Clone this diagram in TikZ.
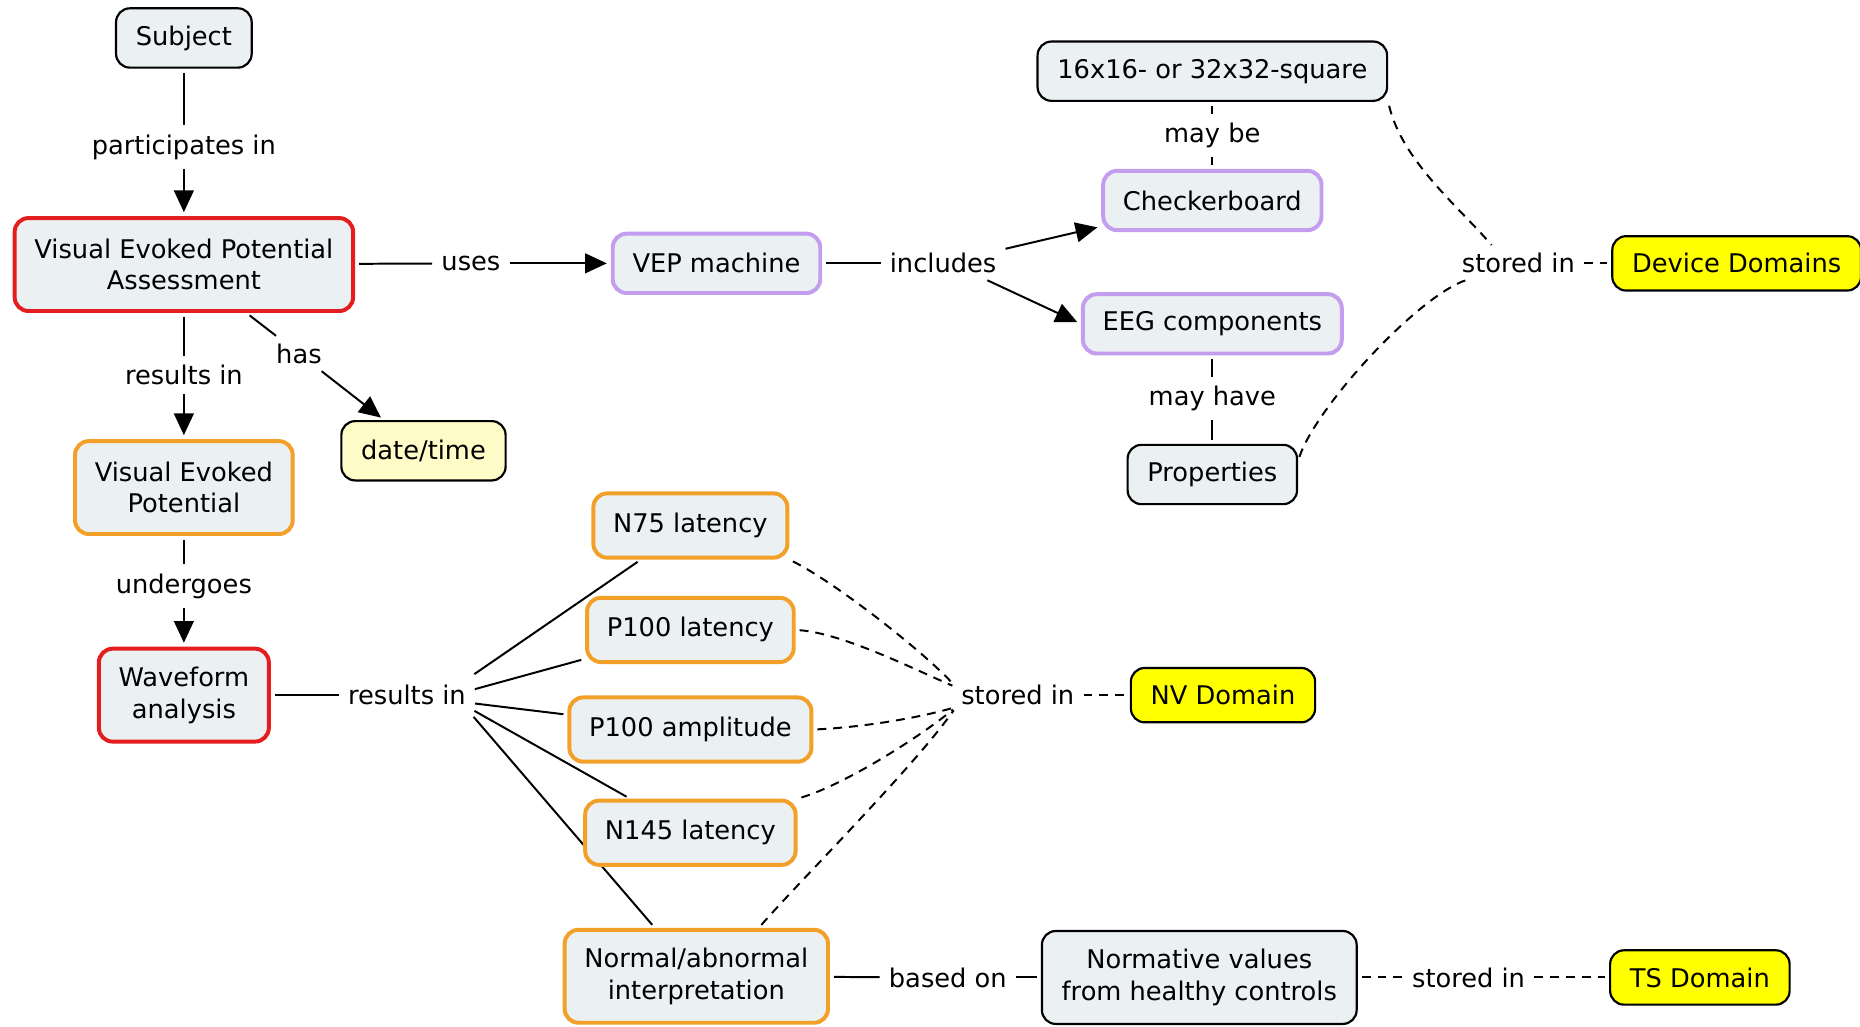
\documentclass[tikz,border=0pt]{standalone}
\usepackage{fontspec}
\setmainfont{DejaVu Sans}
\usetikzlibrary{arrows.meta,backgrounds}
\definecolor{boxfill}{RGB}{235,240,242}
\definecolor{cmred}{RGB}{228,30,30}
\definecolor{cmorange}{RGB}{242,160,40}
\definecolor{cmpurple}{RGB}{196,158,238}
\definecolor{cmyellow}{RGB}{255,255,0}
\definecolor{cmpale}{RGB}{255,252,200}
\tikzset{
  concept/.style={draw=black, line width=1.1pt, fill=boxfill, rounded corners=7pt,
    align=center, inner xsep=10pt, inner ysep=4pt, minimum height=30pt},
  twoline/.style={minimum height=47pt},
  redbox/.style={concept, draw=cmred, line width=2pt},
  orangebox/.style={concept, draw=cmorange, line width=2pt, minimum height=32.5pt},
  purplebox/.style={concept, draw=cmpurple, line width=2pt},
  domainbox/.style={concept, fill=cmyellow, minimum height=27.5pt},
  datebox/.style={concept, fill=cmpale},
  linkword/.style={inner sep=2.5pt, align=center},
  plain/.style={line width=1pt, shorten <=2pt, shorten >=2pt},
  pointer/.style={plain, -{Triangle[length=11pt,width=10pt]}},
  stored/.style={plain, dash pattern=on 4.5pt off 3.5pt},
}
\begin{document}
\begin{tikzpicture}[x=0.6pt, y=0.6pt, font=\fontsize{13pt}{16pt}\selectfont]
    \useasboundingbox (0,0) rectangle (1568,-865);
    %% left column
    \node[concept] (subj) at (155,-32) {Subject};
    \node[redbox, twoline] (vepa) at (155,-223) {Visual Evoked Potential\\Assessment};
    \node[datebox] (date) at (357,-380) {date/time};
    \node[orangebox, twoline] (vep) at (155,-411) {Visual Evoked\\Potential};
    \node[redbox, twoline] (wave) at (155,-586) {Waveform\\analysis};
    \node[linkword] (partin) at (155,-124) {participates in};
    \node[linkword] (uses) at (397,-222) {uses};
    \node[linkword] (has) at (252,-298) {has};
    \node[linkword] (resin) at (155,-316) {results in};
    \node[linkword] (under) at (155,-494) {undergoes};
    %% device part
    \node[purplebox] (vepm) at (604,-222) {VEP machine};
    \node[concept] (sq) at (1022,-60) {16x16- or 32x32-square};
    \node[purplebox] (chk) at (1022,-169) {Checkerboard};
    \node[purplebox] (eeg) at (1022,-273) {EEG components};
    \node[concept] (props) at (1022,-400) {Properties};
    \node[domainbox] (devdom) at (1464,-222) {Device Domains};
    \node[linkword] (inc) at (795,-222) {includes};
    \node[linkword] (maybe) at (1022,-114) {may be};
    \node[linkword] (mayhave) at (1022,-336) {may have};
    \node[linkword] (devstore) at (1280,-222) {stored in};
    %% waveform results
    \node[orangebox] (n75) at (582,-443) {N75 latency};
    \node[orangebox] (p100l) at (582,-531) {P100 latency};
    \node[orangebox] (p100a) at (582,-615) {P100 amplitude};
    \node[orangebox] (n145) at (582,-702) {N145 latency};
    \node[orangebox, twoline] (norm) at (587,-823) {Normal/abnormal\\interpretation};
    \node[concept, twoline] (normv) at (1011,-824) {Normative values\\from healthy controls};
    \node[domainbox] (nvdom) at (1031,-586) {NV Domain};
    \node[domainbox] (tsdom) at (1433,-824) {TS Domain};
    \node[linkword] (wfres) at (343,-586) {results in};
    \node[linkword] (nvstore) at (858,-586) {stored in};
    \node[linkword] (based) at (799,-824) {based on};
    \node[linkword] (tsstore) at (1238,-824) {stored in};

    \begin{scope}[on background layer]
        %% solid links
        \draw[plain] (subj) -- (partin);
        \draw[pointer] (partin) -- (vepa);
        \draw[plain] (vepa) -- (uses);
        \draw[pointer] (uses) -- (vepm);
        \draw[plain] (vepa) -- (has);
        \draw[pointer] (has) -- (date);
        \draw[plain] (vepa) -- (resin);
        \draw[pointer] (resin) -- (vep);
        \draw[plain] (vep) -- (under);
        \draw[pointer] (under) -- (wave);
        \draw[plain] (vepm) -- (inc);
        \draw[pointer] (inc) -- (chk);
        \draw[pointer] ([xshift=-9pt]inc.south east) -- (eeg.west);
        \draw[plain] (sq) -- (maybe);
        \draw[plain] (maybe) -- (chk);
        \draw[plain] (eeg) -- (mayhave);
        \draw[plain] (mayhave) -- (props);
        \draw[plain] (wave) -- (wfres);
        \draw[plain] ([yshift=9.5pt]wfres.east) -- (n75);
        \draw[plain] ([yshift=2.5pt]wfres.east) -- (p100l);
        \draw[plain] ([yshift=-4pt]wfres.east) -- (p100a);
        \draw[plain] ([yshift=-7pt]wfres.east) -- (n145);
        \draw[plain] ([yshift=-9.5pt]wfres.east) -- (norm);
        \draw[plain] (norm) -- (based);
        \draw[plain] (based) -- (normv);
        %% stored in (dashed)
        \draw[stored] (sq.south east) .. controls +(12,-50) and +(-30,35) .. ([xshift=19pt]devstore.north west);
        \draw[stored] ([yshift=7pt]props.east) .. controls +(15,45) and +(-45,-15) .. ([xshift=7pt]devstore.south west);
        \draw[stored] (devstore) -- (devdom);
        \draw[stored] (n75.south east) .. controls +(40,-20) and +(-25,28) .. ([yshift=4pt]nvstore.west);
        \draw[stored] (p100l.east) .. controls +(40,-3) and +(-35,15) .. ([yshift=4pt]nvstore.west);
        \draw[stored] (p100a.east) .. controls +(40,2) and +(-35,-10) .. ([yshift=-6pt]nvstore.west);
        \draw[stored] (n145.north east) .. controls +(40,12) and +(-30,-25) .. ([yshift=-6pt]nvstore.west);
        \draw[stored] ([xshift=-36pt]norm.north east) .. controls +(35,40) and +(-35,-50) .. ([yshift=-6pt]nvstore.west);
        \draw[stored] (nvstore) -- (nvdom);
        \draw[stored] (normv) -- (tsstore);
        \draw[stored] (tsstore) -- (tsdom);
    \end{scope}
\end{tikzpicture}
\end{document}
